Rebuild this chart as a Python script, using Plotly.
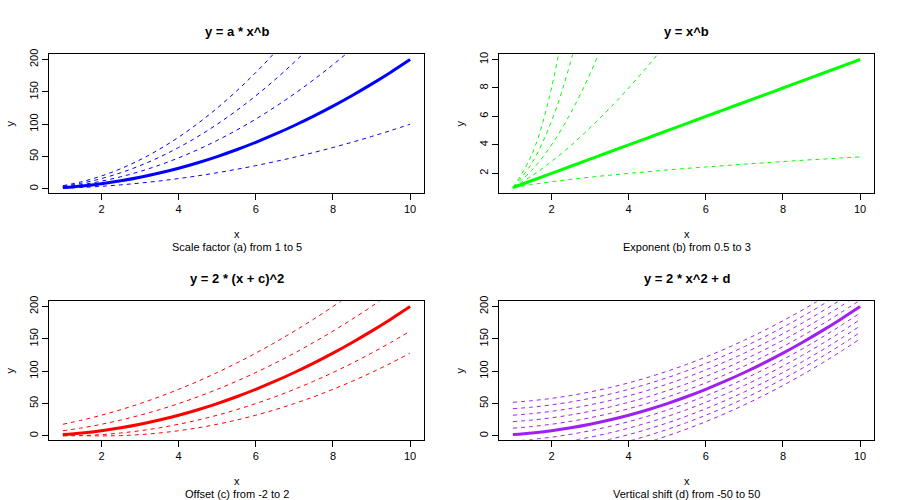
import plotly.graph_objects as go

# ---------------- data ----------------
x_vals = [1, 1.5, 2, 2.5, 3, 3.5, 4, 4.5, 5, 5.5, 6, 6.5, 7, 7.5, 8, 8.5, 9, 9.5, 10]

# Panel 1: y = a * x^2, a = 1..5 (a = 2 highlighted)
scale_a_labels = [1, 2, 3, 4, 5]
scale_curves = [
    [1, 2.25, 4, 6.25, 9, 12.25, 16, 20.25, 25, 30.25, 36, 42.25, 49, 56.25, 64, 72.25, 81, 90.25, 100],
    [2, 4.5, 8, 12.5, 18, 24.5, 32, 40.5, 50, 60.5, 72, 84.5, 98, 112.5, 128, 144.5, 162, 180.5, 200],
    [3, 6.75, 12, 18.75, 27, 36.75, 48, 60.75, 75, 90.75, 108, 126.75, 147, 168.75, 192, 216.75, 243, 270.75, 300],
    [4, 9, 16, 25, 36, 49, 64, 81, 100, 121, 144, 169, 196, 225, 256, 289, 324, 361, 400],
    [5, 11.25, 20, 31.25, 45, 61.25, 80, 101.25, 125, 151.25, 180, 211.25, 245, 281.25, 320, 361.25, 405, 451.25, 500],
]
scale_main = [2, 4.5, 8, 12.5, 18, 24.5, 32, 40.5, 50, 60.5, 72, 84.5, 98, 112.5, 128, 144.5, 162, 180.5, 200]

# Panel 2: y = x^b, b = 0.5..3 (b = 1 highlighted)
exp_b_labels = [0.5, 1, 1.5, 2, 2.5, 3]
exp_curves = [
    [1, 1.22, 1.41, 1.58, 1.73, 1.87, 2, 2.12, 2.24, 2.35, 2.45, 2.55, 2.65, 2.74, 2.83, 2.92, 3, 3.08, 3.16],
    [1, 1.5, 2, 2.5, 3, 3.5, 4, 4.5, 5, 5.5, 6, 6.5, 7, 7.5, 8, 8.5, 9, 9.5, 10],
    [1, 1.84, 2.83, 3.95, 5.20, 6.55, 8, 9.55, 11.18, 12.90, 14.70, 16.57, 18.52, 20.54, 22.63, 24.78, 27, 29.28, 31.62],
    [1, 2.25, 4, 6.25, 9, 12.25, 16, 20.25, 25, 30.25, 36, 42.25, 49, 56.25, 64, 72.25, 81, 90.25, 100],
    [1, 2.76, 5.66, 9.88, 15.59, 22.92, 32, 42.96, 55.90, 70.96, 88.18, 107.7, 129.6, 154.0, 181.0, 210.6, 243, 278.2, 316.2],
    [1, 3.38, 8, 15.63, 27, 42.88, 64, 91.13, 125, 166.4, 216, 274.6, 343, 421.9, 512, 614.1, 729, 857.4, 1000],
]
exp_main = [1, 1.5, 2, 2.5, 3, 3.5, 4, 4.5, 5, 5.5, 6, 6.5, 7, 7.5, 8, 8.5, 9, 9.5, 10]

# Panel 3: y = 2 * (x + c)^2, c = -2..2 (c = 0 highlighted)
offset_c_labels = [-2, -1, 0, 1, 2]
offset_curves = [
    [2, 0.5, 0, 0.5, 2, 4.5, 8, 12.5, 18, 24.5, 32, 40.5, 50, 60.5, 72, 84.5, 98, 112.5, 128],
    [0, 0.5, 2, 4.5, 8, 12.5, 18, 24.5, 32, 40.5, 50, 60.5, 72, 84.5, 98, 112.5, 128, 144.5, 162],
    [2, 4.5, 8, 12.5, 18, 24.5, 32, 40.5, 50, 60.5, 72, 84.5, 98, 112.5, 128, 144.5, 162, 180.5, 200],
    [8, 12.5, 18, 24.5, 32, 40.5, 50, 60.5, 72, 84.5, 98, 112.5, 128, 144.5, 162, 180.5, 200, 220.5, 242],
    [18, 24.5, 32, 40.5, 50, 60.5, 72, 84.5, 98, 112.5, 128, 144.5, 162, 180.5, 200, 220.5, 242, 264.5, 288],
]
offset_main = [2, 4.5, 8, 12.5, 18, 24.5, 32, 40.5, 50, 60.5, 72, 84.5, 98, 112.5, 128, 144.5, 162, 180.5, 200]

# Panel 4: y = 2 * x^2 + d, d = -50..50 (d = 0 highlighted)
shift_d_labels = [-50, -40, -30, -20, -10, 0, 10, 20, 30, 40, 50]
shift_curves = [
    [-48, -45.5, -42, -37.5, -32, -25.5, -18, -9.5, 0, 10.5, 22, 34.5, 48, 62.5, 78, 94.5, 112, 130.5, 150],
    [-38, -35.5, -32, -27.5, -22, -15.5, -8, 0.5, 10, 20.5, 32, 44.5, 58, 72.5, 88, 104.5, 122, 140.5, 160],
    [-28, -25.5, -22, -17.5, -12, -5.5, 2, 10.5, 20, 30.5, 42, 54.5, 68, 82.5, 98, 114.5, 132, 150.5, 170],
    [-18, -15.5, -12, -7.5, -2, 4.5, 12, 20.5, 30, 40.5, 52, 64.5, 78, 92.5, 108, 124.5, 142, 160.5, 180],
    [-8, -5.5, -2, 2.5, 8, 14.5, 22, 30.5, 40, 50.5, 62, 74.5, 88, 102.5, 118, 134.5, 152, 170.5, 190],
    [2, 4.5, 8, 12.5, 18, 24.5, 32, 40.5, 50, 60.5, 72, 84.5, 98, 112.5, 128, 144.5, 162, 180.5, 200],
    [12, 14.5, 18, 22.5, 28, 34.5, 42, 50.5, 60, 70.5, 82, 94.5, 108, 122.5, 138, 154.5, 172, 190.5, 210],
    [22, 24.5, 28, 32.5, 38, 44.5, 52, 60.5, 70, 80.5, 92, 104.5, 118, 132.5, 148, 164.5, 182, 200.5, 220],
    [32, 34.5, 38, 42.5, 48, 54.5, 62, 70.5, 80, 90.5, 102, 114.5, 128, 142.5, 158, 174.5, 192, 210.5, 230],
    [42, 44.5, 48, 52.5, 58, 64.5, 72, 80.5, 90, 100.5, 112, 124.5, 138, 152.5, 168, 184.5, 202, 220.5, 240],
    [52, 54.5, 58, 62.5, 68, 74.5, 82, 90.5, 100, 110.5, 122, 134.5, 148, 162.5, 178, 194.5, 212, 230.5, 250],
]
shift_main = [2, 4.5, 8, 12.5, 18, 24.5, 32, 40.5, 50, 60.5, 72, 84.5, 98, 112.5, 128, 144.5, 162, 180.5, 200]

titles = ["y = a * x^b", "y = x^b", "y = 2 * (x + c)^2", "y = 2 * x^2 + d"]
subtitles = ["Scale factor (a) from 1 to 5", "Exponent (b) from 0.5 to 3",
             "Offset (c) from -2 to 2", "Vertical shift (d) from -50 to 50"]
colors = ["#0000FF", "#00FF00", "#FF0000", "#A020F0"]
x_ticks = [2, 4, 6, 8, 10]
y_ticks_quad = [0, 50, 100, 150, 200]
y_ticks_exp = [2, 4, 6, 8, 10]

# ---------------- figure ----------------
W, H = 900, 500
FONT = "Liberation Sans, Arial, sans-serif"

# panel pixel boxes (left, right, top, bottom)
boxes = [(49, 424, 49, 189), (499, 874, 49, 189), (49, 424, 299, 439), (499, 874, 299, 439)]

panels = [
    (scale_curves, scale_main, y_ticks_quad),
    (exp_curves, exp_main, y_ticks_exp),
    (offset_curves, offset_main, y_ticks_quad),
    (shift_curves, shift_main, y_ticks_quad),
]

def ext(lo, hi):
    d = (hi - lo) * 0.04
    return [lo - d, hi + d]

def px(xp):
    return xp / W

def py(yp):
    return 1 - yp / H

fig = go.Figure()
layout = dict(
    width=W, height=H, margin=dict(l=0, r=0, t=0, b=0),
    paper_bgcolor="white", plot_bgcolor="white", showlegend=False,
    font=dict(family=FONT, color="black", size=11),
)
annotations = []

for i, (curves, main, yt) in enumerate(panels):
    n = i + 1
    xa = "x" if n == 1 else f"x{n}"
    ya = "y" if n == 1 else f"y{n}"
    for c in curves:
        fig.add_trace(go.Scatter(x=x_vals, y=c, mode="lines", xaxis=xa, yaxis=ya,
                                 line=dict(color=colors[i], width=1, dash="4px,4px", shape="spline"),
                                 hoverinfo="skip"))
    fig.add_trace(go.Scatter(x=x_vals, y=main, mode="lines", xaxis=xa, yaxis=ya,
                             line=dict(color=colors[i], width=3, shape="spline"),
                             hoverinfo="skip"))
    l, r, t, b = boxes[i]
    xdom = [px(l), px(r)]
    ydom = [py(b), py(t)]
    axcommon = dict(showgrid=False, zeroline=False, showline=True, linecolor="black",
                    linewidth=1, mirror=True, ticks="outside", ticklen=6, tickcolor="black",
                    tickwidth=1, tickfont=dict(size=11, family=FONT, color="black"))
    layout["xaxis" if n == 1 else f"xaxis{n}"] = dict(
        domain=xdom, anchor=ya, range=ext(min(x_vals), max(x_vals)),
        tickvals=x_ticks, ticktext=[str(v) for v in x_ticks], **axcommon)
    layout["yaxis" if n == 1 else f"yaxis{n}"] = dict(
        domain=ydom, anchor=xa, range=ext(min(main), max(main)),
        tickvals=yt, ticktext=[str(v) for v in yt], tickangle=-90, **axcommon)
    cx = px((l + r) / 2)
    annotations.append(dict(text=f"<b>{titles[i]}</b>", x=cx, y=py(t - 23), xref="paper", yref="paper",
                            showarrow=False, font=dict(size=13, family=FONT), xanchor="center", yanchor="middle"))
    annotations.append(dict(text="x", x=cx, y=py(b + 42), xref="paper", yref="paper",
                            showarrow=False, font=dict(size=11, family=FONT), xanchor="center", yanchor="middle"))
    annotations.append(dict(text=subtitles[i], x=cx, y=py(b + 55), xref="paper", yref="paper",
                            showarrow=False, font=dict(size=11, family=FONT), xanchor="center", yanchor="middle"))
    annotations.append(dict(text="y", x=px(l - 39), y=py((t + b) / 2), xref="paper", yref="paper",
                            showarrow=False, textangle=-90, font=dict(size=11, family=FONT),
                            xanchor="center", yanchor="middle"))

layout["annotations"] = annotations
fig.update_layout(**layout)
fig.write_html("out.html", config={"displayModeBar": False},
               post_script="document.body.style.margin='0';")
